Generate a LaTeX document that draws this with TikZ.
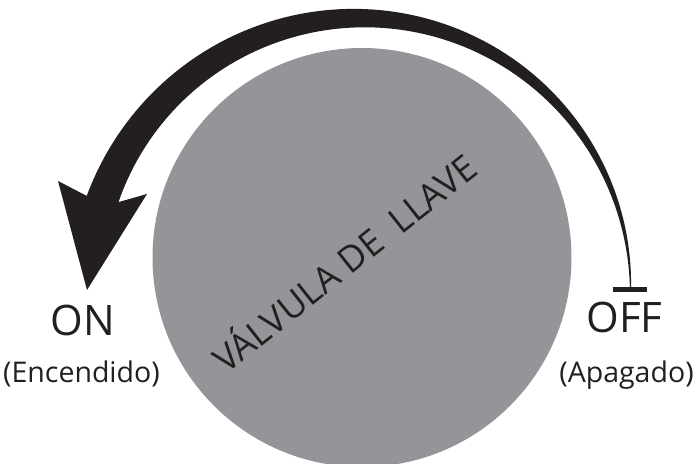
\documentclass[tikz,border=0pt]{standalone}
\usepackage{fontspec}
\setmainfont{Open Sans}
\definecolor{valvegray}{RGB}{147,149,152}
\definecolor{inkblack}{RGB}{35,31,32}

\begin{document}
\begin{tikzpicture}[x=1pt,y=1pt,
  state/.style={font=\fontsize{42}{46}\selectfont, text=inkblack, anchor=base, inner sep=0pt},
  statenote/.style={font=\fontsize{28.5}{31}\selectfont, text=inkblack, anchor=base, inner sep=0pt}]
  % Frame (the bottom of the valve is cut off)
  \clip (0,0) rectangle (697,464);
  % Valve body
  \fill[valvegray] (362,206.5) circle (209.5);
  \node[font=\fontsize{36}{40}\selectfont, text=inkblack, rotate=38.5, anchor=base, inner sep=0pt] (valve) at (353,190) {VÁLVULA DE~~LLAVE};
  % Turning arrow, thin at the OFF end and thick at the ON end
  \fill[inkblack] plot[domain=0.6:161, samples=90] ({360+(271+0.112*\x)*cos(\x)}, {174+(271+0.112*\x)*sin(\x)})
    -- (58,283) -- (87,174) -- (147,270)
    -- plot[domain=160:0.6, samples=90] ({360+(270-0.08125*\x)*cos(\x)}, {174+(270-0.08125*\x)*sin(\x)})
    -- cycle;
  % Stop bar at the tail
  \fill[inkblack] (613,172) rectangle (647,177);
  % Labels
  \node[state] (on) at (82.5,128) {ON};
  \node[statenote] (onnote) at (81.5,81) {(Encendido)};
  \node[state] (off) at (624.5,131.5) {OFF};
  \node[statenote] (offnote) at (626.5,81) {(Apagado)};
\end{tikzpicture}
\end{document}
